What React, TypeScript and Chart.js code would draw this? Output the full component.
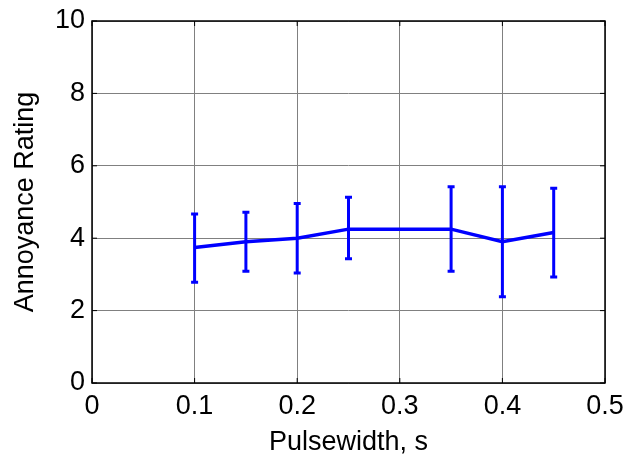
import React, { useEffect, useRef } from "react";
import { Chart, registerables } from "chart.js";

Chart.register(...registerables);

const pulsewidths = [0.1, 0.15, 0.2, 0.25, 0.35, 0.4, 0.45];
const ratings = [3.74, 3.9, 4.0, 4.25, 4.25, 3.9, 4.16];
const errHigh = [4.67, 4.72, 4.96, 5.13, 5.42, 5.42, 5.38];
const errLow = [2.78, 3.09, 3.04, 3.43, 3.09, 2.38, 2.93];
const xTicks = [0, 0.1, 0.2, 0.3, 0.4, 0.5];
const yTicks = [0, 2, 4, 6, 8, 10];

const FONT = "'Liberation Sans', Arial, sans-serif";
const BLUE = "#0000ff";

const errorBarPlugin = {
  id: "errorBars",
  afterDatasetsDraw(chart: any) {
    const { ctx, scales } = chart;
    const xs = scales.x;
    const ys = scales.y;
    ctx.save();
    ctx.strokeStyle = BLUE;
    ctx.lineWidth = 3;
    ctx.lineCap = "butt";
    const cap = 3.5;
    pulsewidths.forEach((px, i) => {
      const x = xs.getPixelForValue(px);
      const yh = ys.getPixelForValue(errHigh[i]);
      const yl = ys.getPixelForValue(errLow[i]);
      ctx.beginPath();
      ctx.moveTo(x, yh);
      ctx.lineTo(x, yl);
      ctx.moveTo(x - cap, yh);
      ctx.lineTo(x + cap, yh);
      ctx.moveTo(x - cap, yl);
      ctx.lineTo(x + cap, yl);
      ctx.stroke();
    });
    ctx.restore();
  },
};

const framePlugin = {
  id: "frame",
  afterDraw(chart: any) {
    const { ctx, chartArea, scales } = chart;
    const { left, right, top, bottom } = chartArea;
    ctx.save();
    ctx.strokeStyle = "#000000";
    ctx.lineWidth = 1.5;
    ctx.strokeRect(left, top, right - left, bottom - top);
    ctx.lineWidth = 1;
    const t = 5;
    ctx.beginPath();
    xTicks.forEach((v) => {
      const x = scales.x.getPixelForValue(v);
      ctx.moveTo(x, bottom);
      ctx.lineTo(x, bottom - t);
      ctx.moveTo(x, top);
      ctx.lineTo(x, top + t);
    });
    yTicks.forEach((v) => {
      const y = scales.y.getPixelForValue(v);
      ctx.moveTo(left, y);
      ctx.lineTo(left + t, y);
      ctx.moveTo(right, y);
      ctx.lineTo(right - t, y);
    });
    ctx.stroke();
    ctx.restore();
  },
};

export default function App() {
  const ref = useRef<HTMLCanvasElement | null>(null);

  useEffect(() => {
    document.body.style.margin = "0";
    const canvas = ref.current;
    if (!canvas) return;
    const chart = new Chart(canvas, {
      type: "line",
      data: {
        datasets: [
          {
            data: pulsewidths.map((x, i) => ({ x, y: ratings[i] })),
            borderColor: BLUE,
            backgroundColor: BLUE,
            borderWidth: 3.5,
            pointRadius: 0,
            tension: 0,
            fill: false,
          },
        ],
      },
      options: {
        animation: false,
        responsive: true,
        maintainAspectRatio: false,
        devicePixelRatio: 1,
        layout: { padding: { top: 21, right: 22, left: 0, bottom: 0 } },
        plugins: {
          legend: { display: false },
          tooltip: { enabled: false },
        },
        scales: {
          x: {
            type: "linear",
            min: 0,
            max: 0.5,
            afterFit(scale: any) {
              scale.height = 76;
              scale.paddingLeft = 0;
              scale.paddingRight = 0;
            },
            afterBuildTicks(scale: any) {
              scale.ticks = xTicks.map((v) => ({ value: v }));
            },
            ticks: {
              font: { family: FONT, size: 27, lineHeight: 1 },
              color: "#000000",
              padding: 10,
              maxRotation: 0,
              callback: (v: any) => String(v),
            },
            grid: { color: "#808080", lineWidth: 1, drawTicks: false },
            border: { display: false },
            title: {
              display: true,
              text: "Pulsewidth, s",
              color: "#000000",
              font: { family: FONT, size: 27, lineHeight: 1 },
              padding: { top: 0, bottom: 3 },
            },
          },
          y: {
            type: "linear",
            min: 0,
            max: 10,
            afterFit(scale: any) {
              scale.width = 92;
              scale.paddingTop = 0;
              scale.paddingBottom = 0;
            },
            afterBuildTicks(scale: any) {
              scale.ticks = yTicks.map((v) => ({ value: v }));
            },
            ticks: {
              font: { family: FONT, size: 27, lineHeight: 1 },
              color: "#000000",
              padding: 7,
              callback: (v: any) => String(v),
            },
            grid: { color: "#808080", lineWidth: 1, drawTicks: false },
            border: { display: false },
            title: {
              display: true,
              text: "Annoyance Rating",
              color: "#000000",
              font: { family: FONT, size: 27, lineHeight: 1 },
              padding: { top: 12, bottom: 0 },
            },
          },
        },
      },
      plugins: [errorBarPlugin, framePlugin],
    });
    return () => chart.destroy();
  }, []);

  return (
    <div style={{ position: "fixed", left: 0, top: 0, width: 627, height: 459, background: "#ffffff" }}>
      <canvas ref={ref} />
    </div>
  );
}
